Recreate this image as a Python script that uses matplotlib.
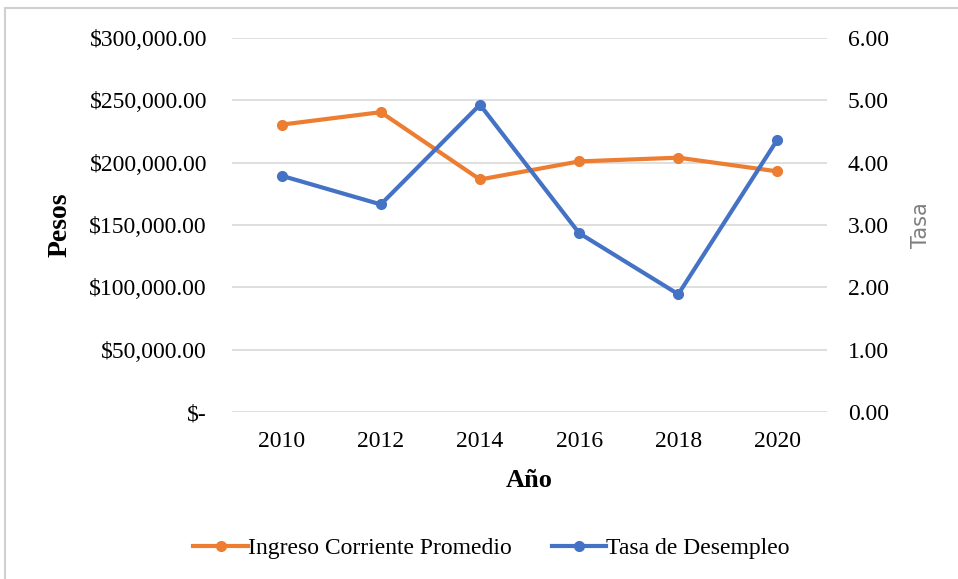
#!/usr/bin/env python3
"""Ingreso corriente promedio vs tasa de desempleo, 2010-2020."""

import matplotlib

matplotlib.use("Agg")
import matplotlib.pyplot as plt
from matplotlib.lines import Line2D
from matplotlib.patches import Rectangle

years = ["2010", "2012", "2014", "2016", "2018", "2020"]
ingreso = [230500, 240500, 186500, 201000, 204000, 193000]
desempleo = [3.79, 3.33, 4.93, 2.87, 1.89, 4.37]

pesos_ticks = [0, 50000, 100000, 150000, 200000, 250000, 300000]
pesos_labels = ["$-", "$50,000.00", "$100,000.00", "$150,000.00",
                "$200,000.00", "$250,000.00", "$300,000.00"]
tasa_ticks = [0, 1, 2, 3, 4, 5, 6]

ORANGE = "#ED7D31"
BLUE = "#4472C4"
GRID = "#D9D9D9"

plt.rcParams["font.family"] = ["Liberation Serif", "DejaVu Serif"]

fig = plt.figure(figsize=(9.58, 5.79), dpi=100)
ax = fig.add_axes([0.2422, 0.2884, 0.6211, 0.6460])
ax2 = ax.twinx()

x = list(range(len(years)))
ax.plot(x, ingreso, color=ORANGE, lw=3.0, marker="o", ms=7, zorder=3)
ax2.plot(x, desempleo, color=BLUE, lw=3.0, marker="o", ms=7, zorder=3)

ax.set_xlim(-0.5, len(years) - 0.5)
ax.set_ylim(0, 300000)
ax2.set_ylim(0, 6)
ax.set_yticks(pesos_ticks)
ax.set_yticklabels(pesos_labels, fontsize=17)
ax2.set_yticks(tasa_ticks)
ax2.set_yticklabels([f"{t:.2f}" for t in tasa_ticks], fontsize=17)
ax.set_xticks(x)
ax.set_xticklabels(years, fontsize=17)

ax.grid(True, axis="y", color=GRID, lw=1.2)
ax.set_axisbelow(True)
for a in (ax, ax2):
    for s in a.spines.values():
        s.set_visible(False)
    a.tick_params(length=0)
ax.tick_params(axis="y", pad=18)
ax2.tick_params(axis="y", pad=15)
ax.tick_params(axis="x", pad=14)

ax.set_xlabel("Año", fontsize=19, fontweight="bold", labelpad=12)
ax.set_ylabel("Pesos", fontsize=20, fontweight="bold", labelpad=12)
ax2.set_ylabel("Tasa", fontsize=15, color="#7F7F7F", labelpad=16,
               family="DejaVu Sans")

handles = [
    Line2D([0], [0], color=ORANGE, lw=3.0, marker="o", ms=7),
    Line2D([0], [0], color=BLUE, lw=3.0, marker="o", ms=7),
]
fig.legend(handles, ["Ingreso Corriente Promedio", "Tasa de Desempleo"],
           loc="center", bbox_to_anchor=(0.513, 0.053), ncol=2, frameon=False,
           fontsize=17, handlelength=2.3, handletextpad=0.0, columnspacing=1.7)

fig.patches.append(Rectangle((0.005, -0.05), 1.1, 1.036, transform=fig.transFigure,
                             fill=False, edgecolor="#D0D0D0", lw=1.5))

fig.savefig("out.png", dpi=100)
